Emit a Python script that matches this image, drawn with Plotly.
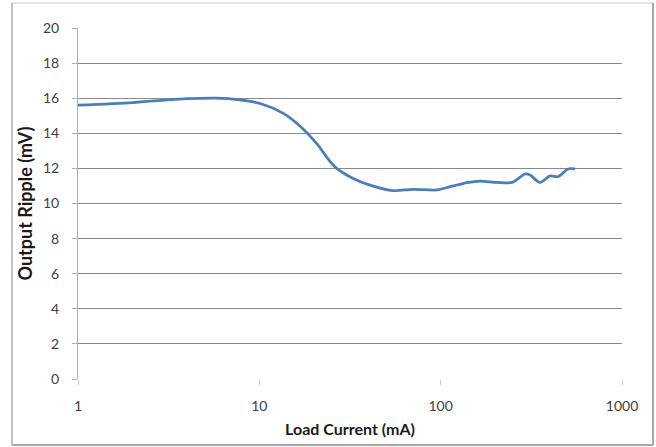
import plotly.graph_objects as go

current_ma = [1, 2.0, 3.1, 4.0, 5.8, 7.8, 10.1, 13.5, 16.8, 20.8, 24.5, 26.7, 32.9, 40.8, 54.6,
              70.4, 95.5, 117, 140, 165, 205, 248, 292, 311, 353, 401, 444, 504, 551]
ripple_mv = [15.6, 15.75, 15.9, 15.97, 16.0, 15.9, 15.7, 15.15, 14.4, 13.4, 12.4, 12.0, 11.43, 11.05, 10.73,
             10.81, 10.77, 11.0, 11.19, 11.28, 11.2, 11.2, 11.68, 11.62, 11.2, 11.57, 11.53, 11.97, 11.97]

x_ticks = [1, 10, 100, 1000]
x_tick_text = ["1", "10", "100", "1000"]
y_ticks = [0, 2, 4, 6, 8, 10, 12, 14, 16, 18, 20]
y_grid = [2, 4, 6, 8, 10, 12, 14, 16, 18, 20]

FONT = "Lato"
GRID = "#8a8a8a"

fig = go.Figure()
fig.add_trace(go.Scatter(
    x=current_ma, y=ripple_mv, mode="lines",
    line=dict(color="#4a7ebb", width=2.75, shape="spline", smoothing=0.8),
    showlegend=False, hoverinfo="skip",
))

L, R, T, B = 78, 34, 28, 68
W, H = 656, 447
pw, ph = W - L - R, H - T - B

def px_x(p):
    return (p - L) / pw

def px_y(p):
    return (H - B - p) / ph

fig.update_layout(
    width=W, height=H,
    margin=dict(l=L, r=R, t=T, b=B, pad=0, autoexpand=False),
    paper_bgcolor="white", plot_bgcolor="white",
    font=dict(family=FONT, size=13, color="#404040"),
    xaxis=dict(
        type="log", range=[0, 3], automargin=False,
        tickmode="array", tickvals=x_ticks, ticktext=x_tick_text,
        showgrid=False, showline=False, zeroline=False,
        ticks="outside", ticklen=5, tickcolor="#c8c8c8", tickwidth=1,
        ticklabelstandoff=9,
        tickfont=dict(family=FONT, size=14, color="#404040"),
        title=dict(text="<b>Load Current (mA)</b>", standoff=11,
                   font=dict(family=FONT, size=16, color="#1a1a1a")),
    ),
    yaxis=dict(
        range=[0, 20], automargin=False,
        tickmode="array", tickvals=y_ticks,
        showgrid=False, zeroline=False,
        showline=True, linecolor="#b0b0b0", linewidth=1,
        ticks="outside", ticklen=5, tickcolor="#b0b0b0",
        ticklabelstandoff=10,
        tickfont=dict(family=FONT, size=14, color="#404040"),
        minor=dict(tickmode="array", tickvals=y_grid, showgrid=True,
                   gridcolor=GRID, gridwidth=1.2, ticks=""),
        title=dict(text="<b>Output Ripple (mV)</b>", standoff=5,
                   font=dict(family=FONT, size=18, color="#1a1a1a")),
    ),
    shapes=[
        dict(type="rect", xref="paper", yref="paper",
             x0=px_x(12), x1=px_x(653), y0=px_y(445), y1=px_y(3),
             line=dict(color="#dcdcdc", width=1.5), layer="below"),
        dict(type="line", xref="paper", yref="paper",
             x0=px_x(653), x1=px_x(653), y0=px_y(445), y1=px_y(3),
             line=dict(color="#a8a8a8", width=2)),
        dict(type="line", xref="paper", yref="paper",
             x0=px_x(12), x1=px_x(653), y0=px_y(445), y1=px_y(445),
             line=dict(color="#a8a8a8", width=2)),
        dict(type="line", xref="paper", yref="paper",
             x0=px_x(12), x1=px_x(12), y0=px_y(445), y1=px_y(3),
             line=dict(color="#b8b8b8", width=1.5)),
    ],
)

fig.write_html("out.html", config={"displayModeBar": False},
               post_script="document.body.style.margin='0';document.body.style.padding='0';")
